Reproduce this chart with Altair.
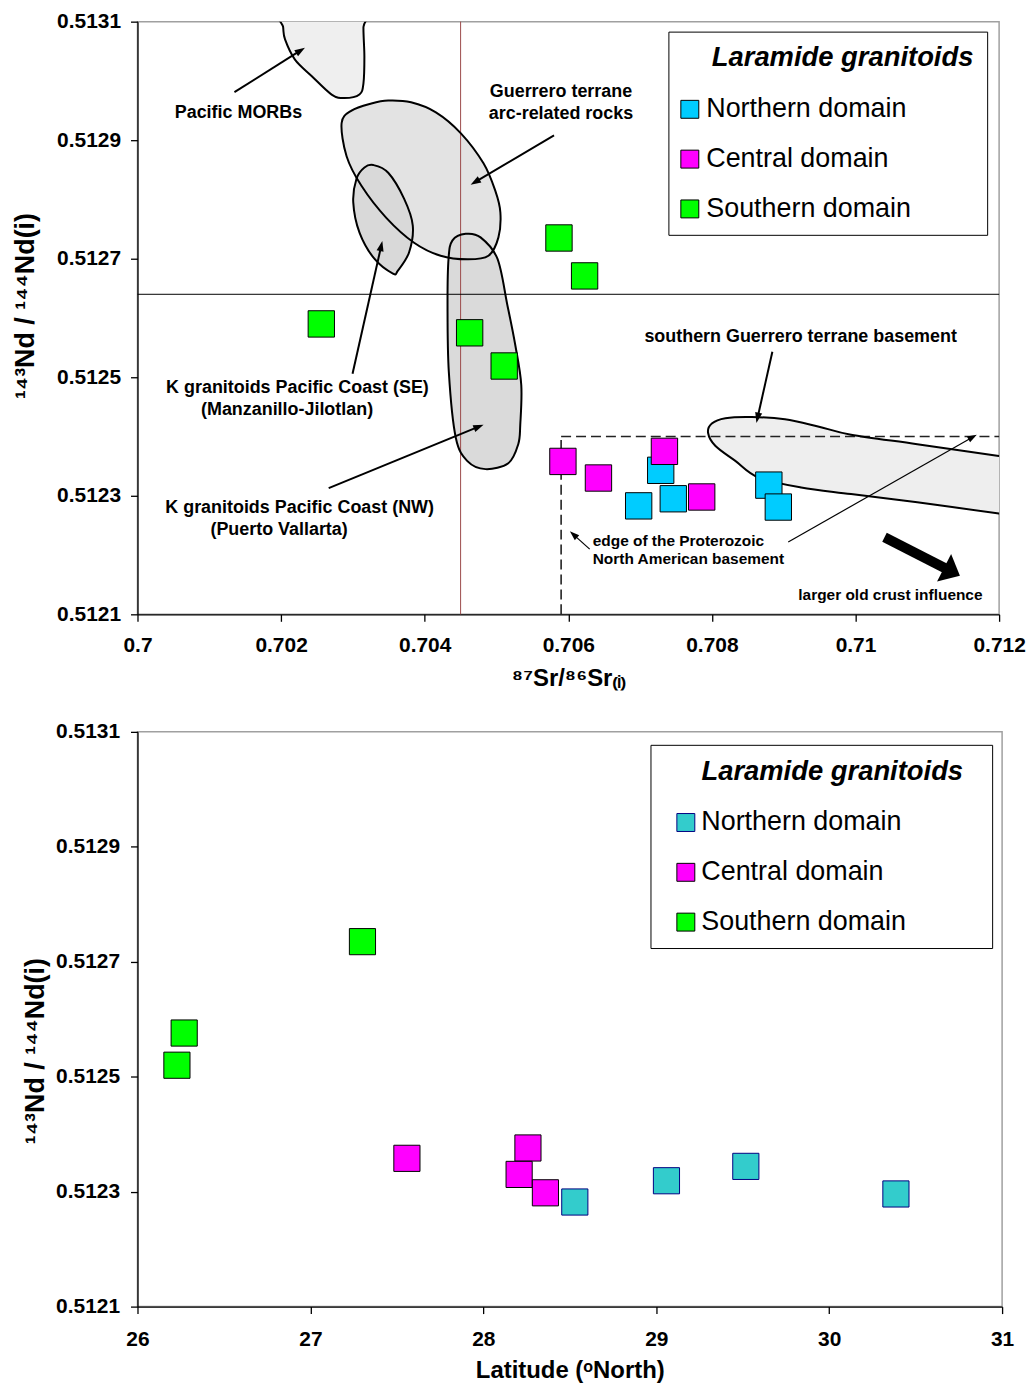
import math
import altair as alt
import pandas as pd

FONT = "Liberation Sans"

# ---------------- data: upper panel ----------------
domains = ["Northern domain", "Central domain", "Southern domain"]

north_sr = [0.707287, 0.706980, 0.707462, 0.708793, 0.708925]
north_nd = [0.512343, 0.512283, 0.512295, 0.512318, 0.512281]
central_sr = [0.705925, 0.706420, 0.707339, 0.707858]
central_nd = [0.512358, 0.512330, 0.512375, 0.512298]
south_sr = [0.702560, 0.704626, 0.705107, 0.705870, 0.706227]
south_nd = [0.512590, 0.512575, 0.512519, 0.512735, 0.512671]

x_ticks = [0.700, 0.702, 0.704, 0.706, 0.708, 0.710, 0.712]
y_ticks = [0.5121, 0.5123, 0.5125, 0.5127, 0.5129, 0.5131]

# field outlines (data units)
morb_x = [0.70200, 0.702028, 0.702055, 0.702193, 0.702428, 0.702704, 0.702884, 0.703091, 0.703147, 0.703160, 0.703147, 0.703174]
morb_y = [0.513125, 0.513091, 0.513070, 0.513036, 0.513008, 0.512977, 0.512971, 0.512977, 0.512996, 0.513041, 0.513091, 0.513125]

guer_x = [0.702843, 0.702981, 0.703257, 0.703492, 0.703810, 0.704156, 0.704501, 0.704819, 0.704985, 0.705054,
          0.705027, 0.704888, 0.704598, 0.704222, 0.703852, 0.703465, 0.703119, 0.702912]
guer_y = [0.512929, 0.512950, 0.512962, 0.512967, 0.512964, 0.512947, 0.512912, 0.512861, 0.512814, 0.512778,
          0.512736, 0.512705, 0.512699, 0.512705, 0.512727, 0.512769, 0.512823, 0.512873]

se_x = [0.703285, 0.703492, 0.703714, 0.703834, 0.703783, 0.703627, 0.703558, 0.703299, 0.703092, 0.703005, 0.703050, 0.703161]
se_y = [0.512858, 0.512845, 0.512801, 0.512756, 0.512711, 0.512680, 0.512675, 0.512700, 0.512744, 0.512795, 0.512835, 0.512854]

nw_x = [0.704332, 0.704387, 0.704571, 0.704778, 0.705013, 0.705151, 0.705262, 0.705345, 0.705331, 0.705303,
        0.705165, 0.704847, 0.704599, 0.704433, 0.704336, 0.704318]
nw_y = [0.512700, 0.512731, 0.512742, 0.512736, 0.512700, 0.512622, 0.512554, 0.512487, 0.512420, 0.512387,
        0.512355, 0.512345, 0.512358, 0.512398, 0.512509, 0.512622]

base_x = [0.707947, 0.707999, 0.708188, 0.708556, 0.709017, 0.709478, 0.709938, 0.710860, 0.711997, 0.712380,
          0.712380, 0.711997, 0.710860, 0.709938, 0.709243, 0.708648, 0.708326, 0.708050]
base_y = [0.512406, 0.512422, 0.512431, 0.512433, 0.512429, 0.512417, 0.512403, 0.512387, 0.512367, 0.512360,
          0.512264, 0.512270, 0.512289, 0.512303, 0.512314, 0.512331, 0.512359, 0.512384]

# reference lines
vline_x = [0.7045]
hline_y = [0.51264]
edge_x = [0.7059]
edge_top = [0.5124]
edge_bottom = [0.5121]
edge_right = [0.712]

# arrows (tail -> tip)
arrow_x1 = [0.701350, 0.705801, 0.702995, 0.702663, 0.708842]
arrow_y1 = [0.512981, 0.512908, 0.512506, 0.512313, 0.512543]
arrow_x2 = [0.702332, 0.704640, 0.703410, 0.704820, 0.708620]
arrow_y2 = [0.513056, 0.512825, 0.512730, 0.512420, 0.512423]
thin_x1 = [0.706298, 0.709063]
thin_y1 = [0.512210, 0.512222]
thin_x2 = [0.706022, 0.711689]
thin_y2 = [0.512240, 0.512403]
big_x1 = [0.710404]
big_y1 = [0.512230]
big_x2 = [0.711454]
big_y2 = [0.512165]

# annotations
ann_text = ["Pacific MORBs", "Guerrero terrane", "arc-related rocks",
            "K granitoids Pacific Coast (SE)", "(Manzanillo-Jilotlan)",
            "K granitoids Pacific Coast (NW)", "(Puerto Vallarta)",
            "southern Guerrero terrane basement"]
ann_x = [0.701406, 0.705898, 0.705898, 0.702228, 0.702083, 0.702258, 0.701972, 0.709236]
ann_y = [0.512945, 0.512982, 0.512944, 0.512482, 0.512445, 0.512279, 0.512242, 0.512568]
edge_text = ["edge of the Proterozoic", "North American basement"]
edge_tx = [0.70634, 0.70634]
edge_ty = [0.512224, 0.512193]
crust_text = ["larger old crust influence"]
crust_x = [0.710486]
crust_y = [0.512133]

# ---------------- data: lower panel ----------------
north_lat = [28.529, 29.059, 29.518, 30.386]
north_nd2 = [0.512282, 0.512319, 0.512344, 0.512296]
central_lat = [27.558, 28.258, 28.207, 28.359]
central_nd2 = [0.512358, 0.512376, 0.512330, 0.512298]
south_lat = [26.228, 26.270, 27.301]
south_nd2 = [0.512520, 0.512576, 0.512735]
lat_ticks = [26, 27, 28, 29, 30, 31]

# ---------------- geometry ----------------
W1, H1 = 865, 595
W2, H2 = 868, 577
PLOT_LEFT = 137
XD = [0.700, 0.712]
YD = [0.5121, 0.5131]
SX = W1 / (XD[1] - XD[0])
SY = H1 / (YD[1] - YD[0])

xs = alt.Scale(domain=XD, nice=False, zero=False)
ys = alt.Scale(domain=YD, nice=False, zero=False)
x_axis = alt.Axis(values=x_ticks, format=".3~f", title="⁸⁷Sr/⁸⁶Sr₍ᵢ₎",
                  labelPadding=13, titlePadding=11, labelFlush=False)
y_axis = alt.Axis(values=y_ticks, format=".4f", title="¹⁴³Nd / ¹⁴⁴Nd(i)", titleFontSize=27,
                  labelPadding=10, titlePadding=17, titleY=285, labelFlush=False)


def X(f="x"):
    return alt.X(f"{f}:Q", scale=xs, axis=x_axis)


def Y(f="y"):
    return alt.Y(f"{f}:Q", scale=ys, axis=y_axis)


def shape_df(xv, yv):
    return pd.DataFrame({"x": xv, "y": yv, "o": list(range(len(xv)))})


shapes = [
    (morb_x, morb_y, "#efefef"),
    (guer_x, guer_y, "#e3e3e3"),
    (se_x, se_y, "#d9d9d9"),
    (nw_x, nw_y, "#dadada"),
    (base_x, base_y, "#eeeeee"),
]

fill_layers, outline_layers = [], []
for sxv, syv, col in shapes:
    base = alt.Chart(shape_df(sxv, syv)).encode(x=X(), y=Y(), order="o:Q")
    fill_layers.append(base.mark_line(interpolate="cardinal-closed", fill=col,
                                      strokeOpacity=0, clip=True))
    outline_layers.append(base.mark_line(interpolate="cardinal-closed", color="black",
                                         strokeWidth=2, clip=True))

vline = alt.Chart(pd.DataFrame({"x": vline_x})).mark_rule(color="#9b4a4a", strokeWidth=1).encode(x=X())
hline = alt.Chart(pd.DataFrame({"y": hline_y})).mark_rule(color="black", strokeWidth=1).encode(y=Y())
edge_v = alt.Chart(pd.DataFrame({"x": edge_x, "y": edge_bottom, "y2": edge_top})).mark_rule(
    color="#222222", strokeWidth=1.6, strokeDash=[10, 5]).encode(x=X(), y=Y(), y2="y2:Q")
edge_h = alt.Chart(pd.DataFrame({"x": edge_x, "x2": edge_right, "y": edge_top})).mark_rule(
    color="#222222", strokeWidth=1.6, strokeDash=[10, 5]).encode(x=X(), x2="x2:Q", y=Y())


def arrow_df(x1, y1, x2, y2, r):
    rows = []
    for a, b, c, d in zip(x1, y1, x2, y2):
        dxp = (c - a) * SX
        dyp = -(d - b) * SY
        L = math.hypot(dxp, dyp)
        ux, uy = dxp / L, dyp / L
        ang = math.degrees(math.atan2(ux, -uy)) % 360
        cx = c - r * ux / SX
        cy = d + r * uy / SY
        rows.append({"x": a, "y": b, "hx": cx, "hy": cy, "ang": ang})
    return pd.DataFrame(rows)


THIN_HEAD = "M0,-1L0.55,0.6L-0.55,0.6Z"
BIG_HEAD = "M0,-1L1,0.15L-1,0.15Z"


def arrow_layers(df, width, head, r):
    shaft = alt.Chart(df).mark_rule(color="black", strokeWidth=width).encode(
        x=X(), y=Y(), x2="hx:Q", y2="hy:Q")
    tip = alt.Chart(df).mark_point(shape=head, filled=True, color="black", opacity=1,
                                   size=(2 * r) ** 2, strokeWidth=0).encode(
        x=X("hx"), y=Y("hy"), angle=alt.Angle("ang:Q", scale=None))
    return [shaft, tip]


arrows = (arrow_layers(arrow_df(arrow_x1, arrow_y1, arrow_x2, arrow_y2, 6.5), 2, THIN_HEAD, 6.5)
          + arrow_layers(arrow_df(thin_x1, thin_y1, thin_x2, thin_y2, 6), 1.2, THIN_HEAD, 6)
          + arrow_layers(arrow_df(big_x1, big_y1, big_x2, big_y2, 15.5), 10, BIG_HEAD, 15.5))

txt_big = alt.Chart(pd.DataFrame({"x": ann_x, "y": ann_y, "t": ann_text})).mark_text(
    font=FONT, fontSize=18, fontWeight="bold", color="black", align="center", baseline="middle").encode(
    x=X(), y=Y(), text="t:N")
txt_edge = alt.Chart(pd.DataFrame({"x": edge_tx, "y": edge_ty, "t": edge_text})).mark_text(
    font=FONT, fontSize=15.5, fontWeight="bold", color="black", align="left", baseline="middle").encode(
    x=X(), y=Y(), text="t:N")
txt_crust = alt.Chart(pd.DataFrame({"x": crust_x, "y": crust_y, "t": crust_text})).mark_text(
    font=FONT, fontSize=15.5, fontWeight="bold", color="black", align="center", baseline="middle").encode(
    x=X(), y=Y(), text="t:N")

NB = "\u00a0"
ZW = "\u200b"


def make_legend(lx, ly, title, sym_off, lab_off):
    return alt.Legend(
        title=title, orient="none", legendX=lx, legendY=ly, direction="vertical",
        titleFont=FONT, titleFontSize=27.5, titleFontStyle="italic", titleFontWeight="bold",
        titleColor="black", titlePadding=24, titleLimit=600,
        labelFont=FONT, labelFontSize=27, labelColor="black", labelLimit=600,
        symbolType="square", symbolSize=324, symbolStrokeWidth=1,
        symbolOffset=sym_off, labelOffset=lab_off, rowPadding=22,
        padding=13, strokeColor="black", fillColor="white")


pts_top = pd.DataFrame({
    "x": north_sr + central_sr + south_sr,
    "y": north_nd + central_nd + south_nd,
    "domain": [domains[0]] * len(north_sr) + [domains[1]] * len(central_sr) + [domains[2]] * len(south_sr),
})
leg_top = make_legend(670 - PLOT_LEFT, 26 - 16, ZW + NB * 4 + "Laramide granitoids", -5, 3)
points_top = alt.Chart(pts_top).mark_point(shape="square", filled=True, size=700, strokeWidth=1, opacity=1).encode(
    x=X(), y=Y(),
    fill=alt.Fill("domain:N", scale=alt.Scale(domain=domains, range=["#00CCFF", "#FF00FF", "#00FF00"]),
                  legend=leg_top),
    stroke=alt.Stroke("domain:N", scale=alt.Scale(domain=domains, range=["black", "black", "black"]),
                      legend=leg_top),
)

top = alt.layer(*fill_layers, vline, hline, edge_v, edge_h, *outline_layers, *arrows,
                txt_big, txt_edge, txt_crust, points_top).properties(width=W1, height=H1)

# ---------------- lower panel ----------------
xs2 = alt.Scale(domain=[26, 31], nice=False, zero=False)
ys2 = alt.Scale(domain=YD, nice=False, zero=False)
x_axis2 = alt.Axis(values=lat_ticks, format="d", title="Latitude (ᵒNorth)", labelPadding=15,
                   titlePadding=9, labelFlush=False)
y_axis2 = alt.Axis(values=y_ticks, format=".4f", title="¹⁴³Nd / ¹⁴⁴Nd(i)", titleFontSize=27,
                   labelPadding=11, titlePadding=6, titleY=320, labelFlush=False)

pts_bot = pd.DataFrame({
    "lat": north_lat + central_lat + south_lat,
    "nd": north_nd2 + central_nd2 + south_nd2,
    "dom": [domains[0]] * len(north_lat) + [domains[1]] * len(central_lat) + [domains[2]] * len(south_lat),
})
leg_bot = make_legend(652 - PLOT_LEFT, 744 - 731, ZW + NB * 5 + "Laramide granitoids" + NB * 2 + ZW, 9, 2)
bottom = alt.Chart(pts_bot).mark_point(shape="square", filled=True, size=690, strokeWidth=1, opacity=1).encode(
    x=alt.X("lat:Q", scale=xs2, axis=x_axis2),
    y=alt.Y("nd:Q", scale=ys2, axis=y_axis2),
    fill=alt.Fill("dom:N", scale=alt.Scale(domain=domains, range=["#33CCCC", "#FF00FF", "#00FF00"]),
                  legend=leg_bot),
    stroke=alt.Stroke("dom:N", scale=alt.Scale(domain=domains, range=["#000080", "black", "black"]),
                      legend=leg_bot),
).properties(width=W2, height=H2)

chart = alt.vconcat(top, bottom, spacing=29).resolve_scale(
    fill="independent", stroke="independent").properties(
    padding={"left": 3, "top": -1, "right": 0, "bottom": 2}
).configure_axis(
    labelFont=FONT, labelFontSize=21, labelFontWeight="bold", labelColor="black",
    titleFont=FONT, titleFontSize=24, titleFontWeight="bold", titleColor="black",
    tickColor="black", domainColor="black", tickSize=7, tickWidth=1.3, domainWidth=1.3, grid=False,
).configure_view(stroke="#a0a0a0", strokeWidth=1.5)

chart.save("out.html", embed_options={"renderer": "svg", "actions": False})
